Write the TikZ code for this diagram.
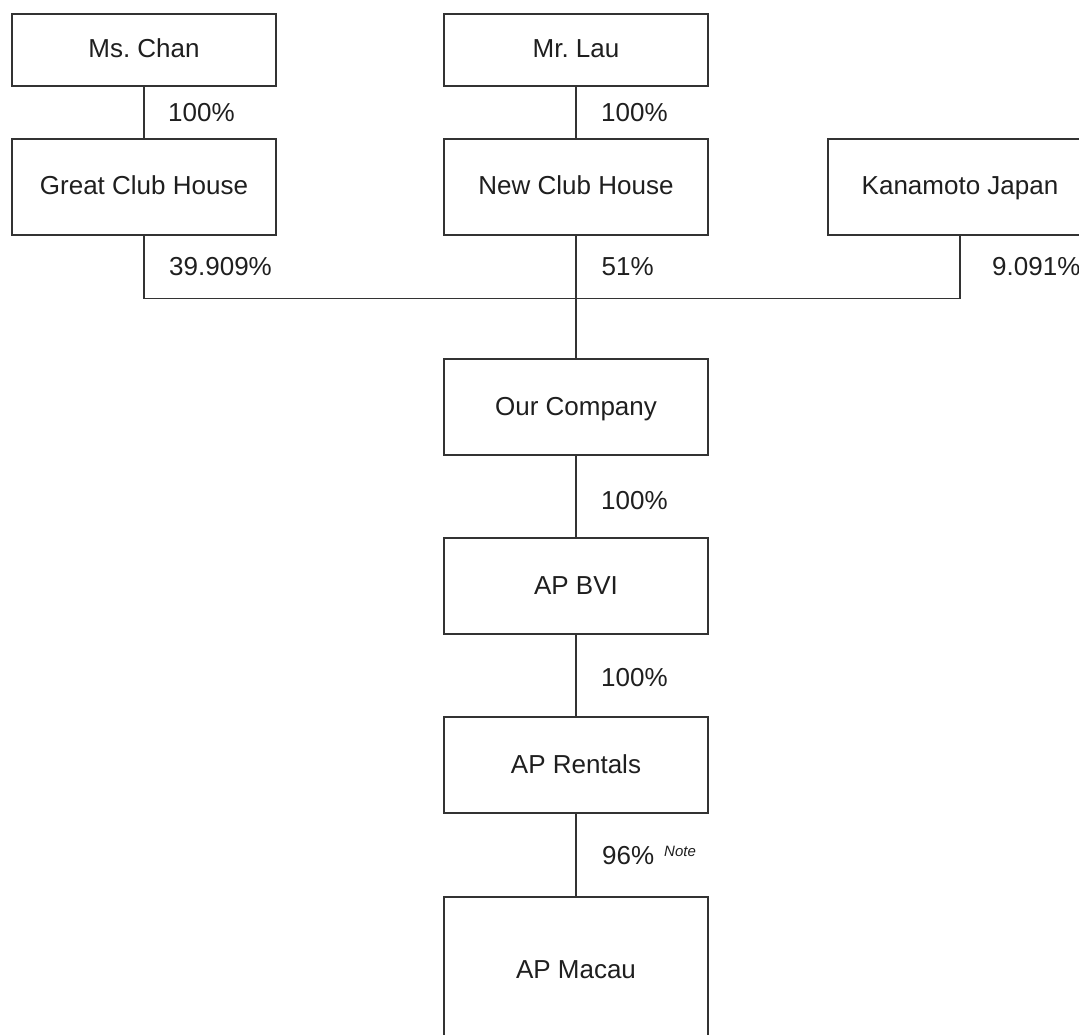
\documentclass[tikz,border=0pt]{standalone}
\usepackage{fontspec}
\setmainfont{Liberation Sans}
\begin{document}
\begin{tikzpicture}[x=1pt,y=-1pt,
  ent/.style={draw=black!80, line width=1.3pt, fill=white, minimum width=264pt, inner sep=0pt, text=black!88,
    text height=19pt, text depth=3pt, font=\fontsize{26}{30}\selectfont},
  tallbox/.style={ent, minimum height=96pt},
  shortbox/.style={ent, minimum height=72pt},
  pct/.style={anchor=base west, inner sep=0pt, text=black!88, font=\fontsize{26}{30}\selectfont},
  link/.style={draw=black!80, line width=1.3pt}]
\useasboundingbox (0,0) rectangle (1079,1035);
\clip (0,0) rectangle (1079,1035);
\fill[white] (0,0) rectangle (1079,1035);
% entities
\node[shortbox] (chan) at (144,50) {Ms.\ Chan};
\node[shortbox] (lau) at (576,50) {Mr.\ Lau};
\node[tallbox] (gch) at (144,187) {Great Club House};
\node[tallbox] (nch) at (576,187) {New Club House};
\node[tallbox] (kan) at (960,187) {Kanamoto Japan};
\node[tallbox] (our) at (576,407) {Our Company};
\node[tallbox] (bvi) at (576,586) {AP BVI};
\node[tallbox] (rent) at (576,765) {AP Rentals};
\node[ent, minimum height=146pt] (macau) at (576,970) {AP Macau};
\coordinate (j) at (576,298.5);
% connectors
\draw[link] (chan.south) -- (gch.north);
\draw[link] (lau.south) -- (nch.north);
\draw[link] (gch.south) |- (j);
\draw[link] (kan.south) |- (j);
\draw[link] (nch.south) -- (our.north);
\draw[link] (our.south) -- (bvi.north);
\draw[link] (bvi.south) -- (rent.north);
\draw[link] (rent.south) -- (macau.north);
% labels
\node[pct] (l1) at (168,122) {100\%};
\node[pct] (l2) at (601,122) {100\%};
\node[pct] (l3) at (169,275) {39.909\%};
\node[pct] (l4) at (601.5,276) {51\%};
\node[pct] (l5) at (992,275) {9.091\%};
\node[pct] (l6) at (601,509) {100\%};
\node[pct] (l7) at (601,686) {100\%};
\node[pct] (l8) at (602,864) {96\%};
\node[anchor=base west, inner sep=0pt, text=black!88, font=\fontsize{15}{18}\selectfont\itshape] (note) at (664,856) {Note};
\end{tikzpicture}
\end{document}
